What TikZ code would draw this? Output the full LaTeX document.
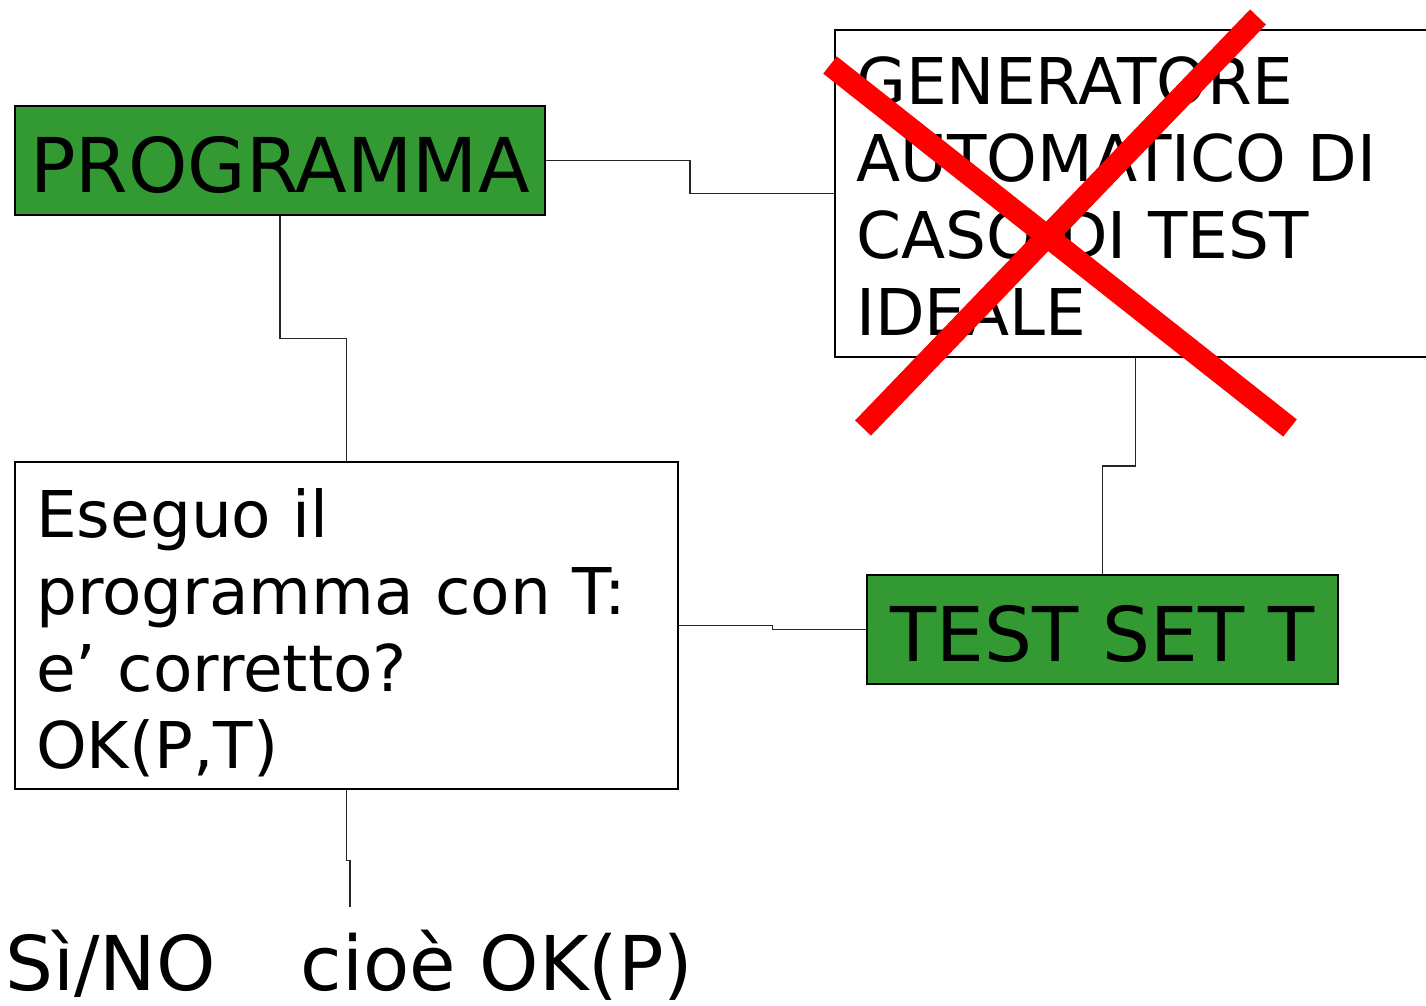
\documentclass[tikz,border=0pt]{standalone}
\usepackage{fontspec}
\setmainfont{DejaVu Sans}
\usetikzlibrary{calc}

\definecolor{progGreen}{RGB}{51,153,51}
\definecolor{crossRed}{RGB}{255,0,0}

\tikzset{
	greenbox/.style={draw, line width=1.1pt, fill=progGreen, inner sep=0pt, text height=35.9pt, text depth=0pt,
		minimum width=#1, minimum height=2.18cm, font=\fontsize{43}{52}\selectfont},
	whitebox/.style={draw, line width=1.1pt, fill=white, inner xsep=0.42cm, inner ysep=0pt,
		align=left, text width=#1, minimum height=6.54cm, font=\fontsize{36.7}{43.8}\selectfont},
	wire/.style={line width=0.6pt, black!85},
	cross/.style={line width=12.5pt, color=crossRed}
}

\begin{document}
\begin{tikzpicture}[x=0.02cm, y=-0.02cm]
			%%%%% START %%%%%
			\useasboundingbox (0, 0) rectangle (1426, 1005);
			
			\node[greenbox=10.6cm] (prog) at (280, 160.5) {PROGRAMMA};
			\node[greenbox=9.42cm] (tset) at (1102.5, 629.5) {TEST SET T};
			
			\node[whitebox=11.18cm] (gen) at (1135.5, 193.5) {\rule{0pt}{30.2pt}GENERATORE\\AUTOMATICO DI\\CASO DI TEST\\IDEALE};
			\node[whitebox=12.42cm] (run) at (346.5, 625.5) {\rule{0pt}{36pt}Eseguo il\\programma con T:\\e’ corretto?\\OK(P,T)};
			
			\coordinate (out) at (350, 907);
			\node[anchor=base west, inner sep=0pt, font=\fontsize{43}{52}\selectfont] (answer) at (5, 990) {Sì/NO\hspace{1.7cm}cioè OK(P)};
			
			\draw[wire] (prog.east) -| ($(prog.east)!.5!(gen.west)$) |- (gen.west);
			\draw[wire] (prog.south) |- ($(prog.south)!.5!(run.north)$) -| (run.north);
			\draw[wire] (gen.south) |- ($(gen.south)!.5!(tset.north)$) -| (tset.north);
			\draw[wire] (run.east) -| ($(run.east)!.5!(tset.west)$) |- (tset.west);
			\draw[wire] (run.south) -- ++(0, 71) -| (out);
			
			\draw[cross] (830, 65) -- (1290, 428);
			\draw[cross] (1258, 17) -- (863, 428);
			%%%%% END %%%%%
\end{tikzpicture}
\end{document}
